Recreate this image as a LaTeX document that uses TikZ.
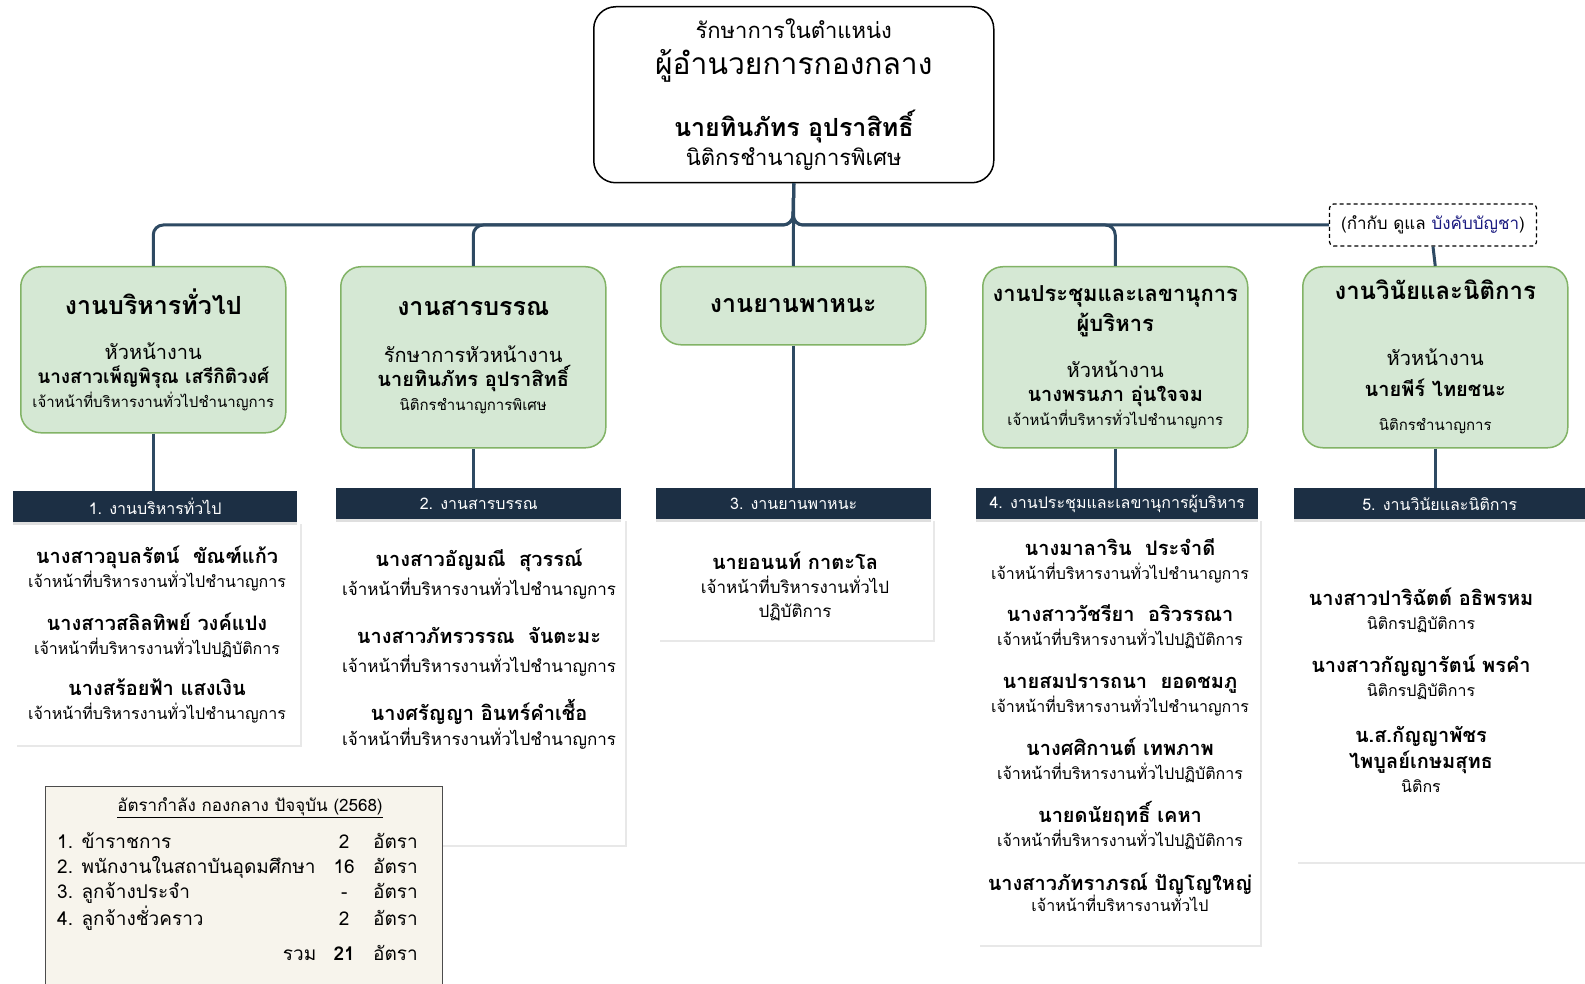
\documentclass[tikz,border=0pt]{standalone}
\usepackage{fontspec}
\setmainfont{Loma}[Script=Thai]
\usetikzlibrary{shadows}

\definecolor{unitgreen}{HTML}{D5E8D4}
\definecolor{unitedge}{HTML}{82B366}
\definecolor{barnavy}{HTML}{1C2F44}
\definecolor{linkblue}{HTML}{2E4A63}
\definecolor{notefill}{HTML}{F7F4EC}
\definecolor{ctrlblue}{HTML}{1A1A80}

\newcommand{\fs}[1]{\fontsize{#1}{#1}\selectfont}
\newcommand{\pname}[1]{{\fontsize{20}{24}\selectfont\bfseries #1}}

\tikzset{
  topbox/.style={draw=black,line width=1.5pt,rounded corners=22pt,fill=white,
    anchor=north west,align=center,font=\fontsize{22}{28}\selectfont},
  unitbox/.style={draw=unitedge,fill=unitgreen,line width=1.5pt,rounded corners=20pt,
    anchor=north west,minimum width=265pt,align=center,font=\fontsize{20}{24}\selectfont},
  secbar/.style={fill=barnavy,text=white,anchor=north west,minimum height=31pt,
    font=\fontsize{16}{18}\selectfont,inner sep=0pt,
    drop shadow={shadow xshift=0pt,shadow yshift=-3pt,opacity=.25}},
  listpanel/.style={fill=white,anchor=north west,inner sep=0pt,
    drop shadow={shadow xshift=2pt,shadow yshift=-2pt,opacity=.18}},
  listtext/.style={align=center,font=\fontsize{16}{24}\selectfont},
  link/.style={draw=linkblue,line width=3pt,rounded corners=10pt},
}

\begin{document}
\begin{tikzpicture}[x=1pt,y=-1pt]
  \useasboundingbox[fill=white] (0,0) rectangle (1585,984);

  \node[listpanel,minimum width=285pt,minimum height=223pt] (p1) at (15,522) {};
  \node[listpanel,minimum width=287pt,minimum height=326pt] (p2) at (338,519) {};
  \node[listpanel,minimum width=275pt,minimum height=121pt] (p3) at (658,519) {};
  \node[listpanel,minimum width=282pt,minimum height=426pt] (p4) at (978,519) {};
  \node[listpanel,minimum width=289pt,minimum height=343pt] (p5) at (1296,519) {};

  \node[secbar,minimum width=284pt] (b1) at (13,491) {1. งานบริหารทั่วไป};
  \node[secbar,minimum width=285pt] (b2) at (336,488) {2. งานสารบรรณ};
  \node[secbar,minimum width=275pt] (b3) at (656,488) {3. งานยานพาหนะ};
  \node[secbar,minimum width=282pt] (b4) at (976,488) {4. งานประชุมและเลขานุการผู้บริหาร};
  \node[secbar,minimum width=291pt] (b5) at (1294,488) {5. งานวินัยและนิติการ};

  \node[topbox,minimum width=400pt,minimum height=176pt] (dir) at (593,6)
    {รักษาการในตำแหน่ง\\[8pt]
     {\fontsize{30}{34}\selectfont ผู้อำนวยการกองกลาง}\\[27pt]
     {\fontsize{25}{30}\selectfont\bfseries นายทินภัทร อุปราสิทธิ์}\\[1pt]
     นิติกรชำนาญการพิเศษ};

  \node[unitbox,minimum height=166pt] (u1) at (20,266)
    {{\fs{25}\bfseries งานบริหารทั่วไป}\\[21pt]
     หัวหน้างาน\\
     {\fs{19}\bfseries นางสาวเพ็ญพิรุณ เสรีกิติวงศ์}\\
     {\fs{15}เจ้าหน้าที่บริหารงานทั่วไปชำนาญการ}};
  \node[unitbox,minimum height=181pt] (u2) at (340,266)
    {{\fs{25}\bfseries งานสารบรรณ}\\[23pt]
     รักษาการหัวหน้างาน\\
     {\bfseries นายทินภัทร อุปราสิทธิ์}\\
     {\fs{15}นิติกรชำนาญการพิเศษ}};
  \node[unitbox,minimum height=78pt] (u3) at (660,266)
    {{\fs{25}\bfseries งานยานพาหนะ}};
  \node[unitbox,minimum height=181pt] (u4) at (982,266)
    {{\fs{22}\bfseries งานประชุมและเลขานุการ}\\[5pt]
     {\fs{22}\bfseries ผู้บริหาร}\\[22pt]
     หัวหน้างาน\\
     {\bfseries นางพรนภา อุ่นใจจม}\\
     {\fs{15}เจ้าหน้าที่บริหารทั่วไปชำนาญการ}};
  \node[unitbox,minimum height=181pt] (u5) at (1302,266)
    {{\fs{24}\bfseries งานวินัยและนิติการ}\\[42pt]
     หัวหน้างาน\\[7pt]
     {\bfseries นายพีร์ ไทยชนะ}\\[10pt]
     {\fs{15}นิติกรชำนาญการ}};

  \node[draw,line width=1.2pt,dash pattern=on 4pt off 3pt,rounded corners=4pt,
    minimum width=207pt,minimum height=42pt,
    font=\fontsize{17}{20}\selectfont] (ctrl) at (1433,225)
    {(กำกับ ดูแล \textcolor{ctrlblue}{บังคับบัญชา})};

  \node[listtext] (l1) at (157,635)
    {\pname{นางสาวอุบลรัตน์~~ขัณฑ์แก้ว}\\ เจ้าหน้าที่บริหารงานทั่วไปชำนาญการ\\[19pt]
     \pname{นางสาวสลิลทิพย์ วงค์แปง}\\ เจ้าหน้าที่บริหารงานทั่วไปปฏิบัติการ\\[17pt]
     \pname{นางสร้อยฟ้า แสงเงิน}\\ เจ้าหน้าที่บริหารงานทั่วไปชำนาญการ};
  \node[listtext,font=\fontsize{17}{29}\selectfont] (l2) at (479,649)
    {\pname{นางสาวอัญมณี~~สุวรรณ์}\\ เจ้าหน้าที่บริหารงานทั่วไปชำนาญการ\\[19pt]
     \pname{นางสาวภัทรวรรณ~~จันตะมะ}\\ เจ้าหน้าที่บริหารงานทั่วไปชำนาญการ\\[19pt]
     \pname{นางศรัญญา อินทร์คำเชื้อ}\\[-4pt] เจ้าหน้าที่บริหารงานทั่วไปชำนาญการ};
  \node[listtext,font=\fontsize{17}{24}\selectfont] (l3) at (795,586)
    {\pname{นายอนนท์ กาตะโล}\\ เจ้าหน้าที่บริหารงานทั่วไป\\ ปฏิบัติการ};
  \node[listtext] (l4) at (1120,725)
    {\pname{นางมาลาริน~~ประจำดี}\\ เจ้าหน้าที่บริหารงานทั่วไปชำนาญการ\\[18pt]
     \pname{นางสาววัชรียา~~อริวรรณา}\\ เจ้าหน้าที่บริหารงานทั่วไปปฏิบัติการ\\[19pt]
     \pname{นายสมปรารถนา~~ยอดชมภู}\\ เจ้าหน้าที่บริหารงานทั่วไปชำนาญการ\\[19pt]
     \pname{นางศศิกานต์ เทพภาพ}\\ เจ้าหน้าที่บริหารงานทั่วไปปฏิบัติการ\\[18pt]
     \pname{นายดนัยฤทธิ์ เคหา}\\ เจ้าหน้าที่บริหารงานทั่วไปปฏิบัติการ\\[20pt]
     \pname{นางสาวภัทราภรณ์ ปัญโญใหญ่}\\[-3pt] เจ้าหน้าที่บริหารงานทั่วไป};
  \node[listtext] (l5) at (1421,690)
    {\pname{นางสาวปาริฉัตต์ อธิพรหม}\\ นิติกรปฏิบัติการ\\[19pt]
     \pname{นางสาวกัญญารัตน์ พรคำ}\\ นิติกรปฏิบัติการ\\[22pt]
     \pname{น.ส.กัญญาพัชร}\\[2pt] \pname{ไพบูลย์เกษมสุทธ}\\ นิติกร};

  \node[draw=black!70,line width=1pt,fill=notefill,anchor=north west,
    minimum width=397pt,minimum height=220pt] (rate) at (45,786) {};
  \node[font=\fontsize{17}{20}\selectfont] (ratehead) at (250,808)
    {\underline{อัตรากำลัง กองกลาง ปัจจุบัน (2568)}};
  \node[anchor=north west,inner sep=0pt,font=\fontsize{19}{25}\selectfont] (ratelist) at (57,831)
    {\begin{tabular}{@{}p{272pt}@{}c@{\hspace{14pt}}l@{}}
      1. ข้าราชการ & \makebox[30pt]{2} & อัตรา\\
      2. พนักงานในสถาบันอุดมศึกษา & \makebox[30pt]{16} & อัตรา\\
      3. ลูกจ้างประจำ & \makebox[30pt]{-} & อัตรา\\
      4. ลูกจ้างชั่วคราว & \makebox[30pt]{2} & อัตรา\\[10pt]
      \hfill รวม~~ & \makebox[30pt]{\bfseries 21} & อัตรา
    \end{tabular}};

  \coordinate (bus) at (793,225);
  \draw[link] (dir.south) -- (bus) -| (u1.north);
  \draw[link] (dir.south) -- (bus) -| (u2.north);
  \draw[link] (dir.south) -- (u3.north);
  \draw[link] (dir.south) -- (bus) -| (u4.north);
  \draw[link] (dir.south) -- (bus) -- (ctrl.west);
  \draw[link] (ctrl.south) -- (u5.north);

  \draw[link] (u1.south) -- (u1.south |- b1.north);
  \draw[link] (u2.south) -- (u2.south |- b2.north);
  \draw[link] (u3.south) -- (u3.south |- b3.north);
  \draw[link] (u4.south) -- (u4.south |- b4.north);
  \draw[link] (u5.south) -- (u5.south |- b5.north);
\end{tikzpicture}
\end{document}
